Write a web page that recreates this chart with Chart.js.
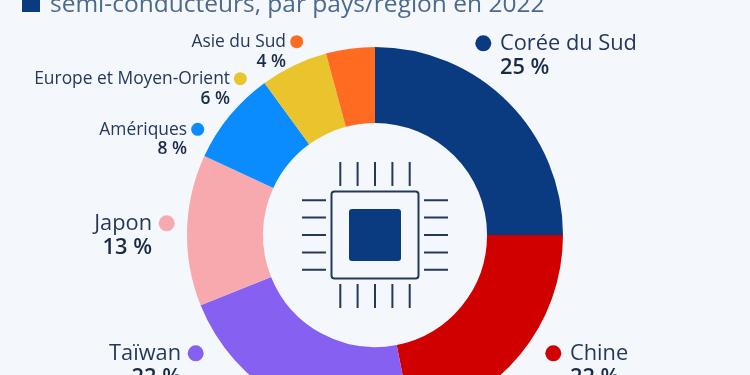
<!DOCTYPE html>
<html lang="fr"><head><meta charset="utf-8">
<style>
html,body{margin:0;padding:0;width:750px;height:375px;overflow:hidden;background:#f4f8fc}
#w{position:absolute;left:0;top:0;width:750px;height:423px}
</style>
<script src="https://cdn.jsdelivr.net/npm/chart.js@4"></script>
</head><body><div id="w"><canvas id="c" width="750" height="423"></canvas></div>
<script>
const categories=["Corée du Sud","Chine","Taïwan","Japon","Amériques","Europe et Moyen-Orient","Asie du Sud"];
const shares=[25,21.9,22,13,8.1,5.8,4.2];
const colors=["#0a3a80","#d00000","#8660f0","#f7a9ae","#0a8cff","#eac42c","#ff6b20"];
const titleText="semi-conducteurs, par pays/région en 2022";
const F='"Open Sans"';
// label layout: text edge x, line y, side, font size, line gap, dot x/y/radius
const layout=[
 {x:500,y:44,side:"l",size:21.8,gap:24,dot:483.3,dy:43.3,r:8},
 {x:570,y:354,side:"l",size:21.8,gap:24,dot:553.3,dy:353.3,r:8},
 {x:181,y:354,side:"r",size:21.8,gap:24,dot:195.7,dy:353.3,r:8},
 {x:152,y:224,side:"r",size:21.8,gap:24,dot:166.7,dy:223.3,r:8},
 {x:187,y:130,side:"r",size:17.4,gap:19,dot:197.7,dy:129.3,r:6.5},
 {x:230,y:79,side:"r",size:17.4,gap:20,dot:240.3,dy:78.7,r:6.5},
 {x:286,y:42,side:"r",size:17.4,gap:20,dot:296.7,dy:41.7,r:6.5}
];
const deco={id:"deco",afterDraw(ch){
 const g=ch.ctx,a=ch.getDatasetMeta(0).data[0],cx=a.x,cy=a.y;
 g.save();
 // title
 g.fillStyle="#0a3a80";g.fillRect(22,-6,18,18);
 g.fillStyle="#4d6a8c";g.font=`24.5px ${F}`;g.textAlign="left";g.textBaseline="alphabetic";
 g.fillText(titleText,50,11.5);
 // labels
 g.textBaseline="middle";
 categories.forEach((n,i)=>{const L=layout[i];
  g.fillStyle=colors[i];g.beginPath();g.arc(L.dot,L.dy,L.r,0,7);g.fill();
  g.textAlign=L.side==="l"?"left":"right";
  g.fillStyle="#24395a";g.font=`${L.size}px ${F}`;g.fillText(n,L.x,L.y);
  g.fillStyle="#1a2b45";g.font=`600 ${L.size}px ${F}`;g.fillText(Math.round(shares[i])+" %",L.x,L.y+L.gap);
 });
 // chip icon
 g.strokeStyle="#24395a";g.lineWidth=2;g.lineCap="butt";
 g.beginPath();g.roundRect(cx-43.5,cy-43.5,87,87,3);g.stroke();
 g.fillStyle="#0a3a80";g.beginPath();g.roundRect(cx-26,cy-26,52,52,3);g.fill();
 g.beginPath();
 [-34.7,-17.4,0,17.4,34.7].forEach(d=>{
  g.moveTo(cx+d,cy-73);g.lineTo(cx+d,cy-49);
  g.moveTo(cx+d,cy+49);g.lineTo(cx+d,cy+73);
  g.moveTo(cx-73,cy+d);g.lineTo(cx-49,cy+d);
  g.moveTo(cx+49,cy+d);g.lineTo(cx+73,cy+d);
 });
 g.stroke();
 g.restore();
}};
new Chart(document.getElementById("c"),{
 type:"doughnut",
 data:{labels:categories,datasets:[{data:shares,backgroundColor:colors,borderWidth:0}]},
 options:{responsive:false,animation:false,cutout:"59.6%",
  layout:{padding:{top:47}},
  plugins:{legend:{display:false},tooltip:{enabled:false}}},
 plugins:[deco]
});
</script></body></html>
